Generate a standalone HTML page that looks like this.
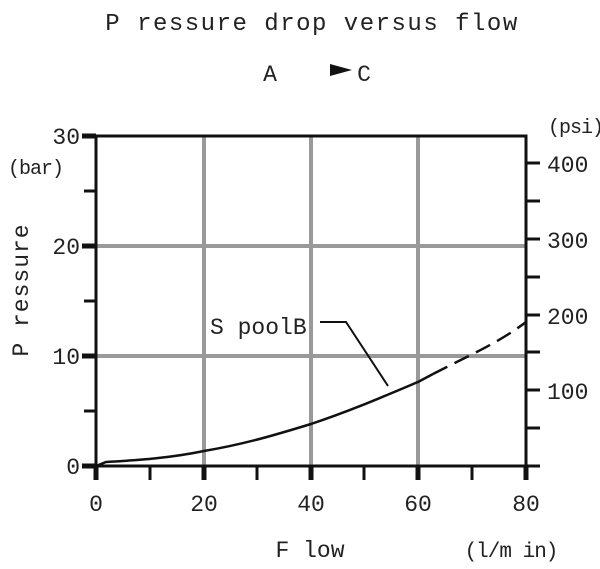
<!DOCTYPE html>
<html><head><style>
body{margin:0;background:#fff;width:600px;height:564px;overflow:hidden}
svg text{font-family:"Liberation Mono",monospace;fill:#222}
</style></head><body>
<svg width="600" height="564" viewBox="0 0 600 564">
<text x="312" y="30" font-size="24" letter-spacing="1.5" text-anchor="middle">P ressure drop versus flow</text>
<text x="270" y="81" font-size="23" text-anchor="middle">A</text>
<polygon points="330,64 352,70 330,76" fill="#111"/>
<text x="364" y="81" font-size="23" text-anchor="middle">C</text>
<g stroke="#999" stroke-width="4">
<line x1="204" y1="136" x2="204" y2="466"/>
<line x1="311" y1="136" x2="311" y2="466"/>
<line x1="418" y1="136" x2="418" y2="466"/>
<line x1="96" y1="246" x2="526" y2="246"/>
<line x1="96" y1="356" x2="526" y2="356"/>
</g>
<rect x="96" y="136" width="430" height="330" fill="none" stroke="#111" stroke-width="3"/>
<g stroke="#111" stroke-width="5">
<line x1="82" y1="136" x2="96" y2="136"/><line x1="82" y1="246" x2="96" y2="246"/>
<line x1="82" y1="356" x2="96" y2="356"/><line x1="82" y1="466" x2="96" y2="466"/>
</g>
<g stroke="#111" stroke-width="3">
<line x1="84" y1="191" x2="96" y2="191"/><line x1="84" y1="301" x2="96" y2="301"/><line x1="84" y1="411" x2="96" y2="411"/>
</g>
<g stroke="#111" stroke-width="5">
<line x1="96" y1="466" x2="96" y2="480"/><line x1="204" y1="466" x2="204" y2="480"/>
<line x1="311" y1="466" x2="311" y2="480"/><line x1="418" y1="466" x2="418" y2="480"/>
<line x1="526" y1="466" x2="526" y2="480"/>
</g>
<g stroke="#111" stroke-width="3">
<line x1="150" y1="466" x2="150" y2="480"/><line x1="257" y1="466" x2="257" y2="480"/>
<line x1="364" y1="466" x2="364" y2="480"/><line x1="472" y1="466" x2="472" y2="480"/>
</g>
<g stroke="#111" stroke-width="3">
<line x1="526" y1="163" x2="540" y2="163"/><line x1="526" y1="201" x2="540" y2="201"/>
<line x1="526" y1="239" x2="540" y2="239"/><line x1="526" y1="277" x2="540" y2="277"/>
<line x1="526" y1="315" x2="540" y2="315"/><line x1="526" y1="352" x2="540" y2="352"/>
<line x1="526" y1="390" x2="540" y2="390"/><line x1="526" y1="428" x2="540" y2="428"/>
<line x1="526" y1="466" x2="540" y2="466"/>
</g>
<g font-size="23">
<text x="80" y="144" text-anchor="end">30</text>
<text x="80" y="254" text-anchor="end">20</text>
<text x="80" y="364" text-anchor="end">10</text>
<text x="80" y="474" text-anchor="end">0</text>
<text x="8" y="174" font-size="20" letter-spacing="-1">(bar)</text>
<text x="547" y="172">400</text><text x="547" y="248">300</text>
<text x="547" y="324">200</text><text x="547" y="399">100</text>
<text x="548" y="133" font-size="20" letter-spacing="-1">(psi)</text>
<text x="96" y="511" text-anchor="middle">0</text>
<text x="204" y="511" text-anchor="middle">20</text>
<text x="311" y="511" text-anchor="middle">40</text>
<text x="418" y="511" text-anchor="middle">60</text>
<text x="526" y="511" text-anchor="middle">80</text>
<text x="310" y="557" text-anchor="middle">F low</text>
<text x="511" y="557" text-anchor="middle" font-size="21" letter-spacing="-1">(l/m in)</text>
<text transform="translate(28,290) rotate(-90)" text-anchor="middle" letter-spacing="1">P ressure</text>
<text x="210" y="334">S poolB</text>
</g>
<path d="M96,466 L106,462 C140,460 170,458 204,451 C245,444 275,435 311,424 C350,411 380,398 418,382 L433,374" fill="none" stroke="#111" stroke-width="2.5"/>
<path d="M433,374 C470,355 500,342 526,322" fill="none" stroke="#111" stroke-width="2.5" stroke-dasharray="16,8"/>
<polyline points="320,322 346,322 388,386" fill="none" stroke="#111" stroke-width="2"/>
</svg>
</body></html>
